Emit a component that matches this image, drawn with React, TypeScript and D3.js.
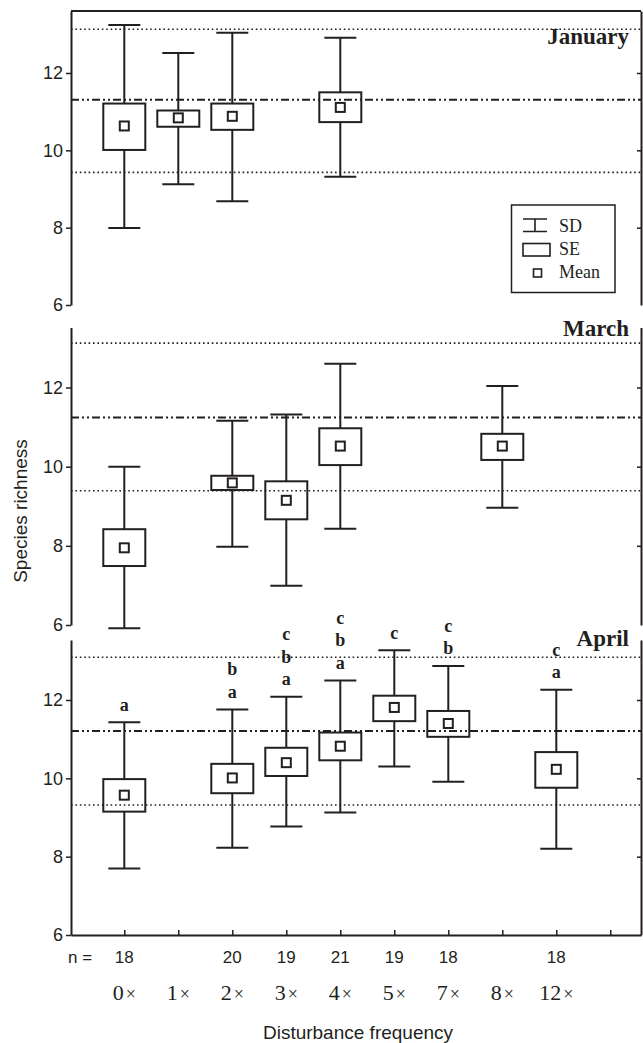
import React, { useEffect, useRef } from "react";
import * as d3 from "d3";

// disturbance frequency classes (x axis), plus one empty tick slot at the end
const categories = ["0", "1", "2", "3", "4", "5", "7", "8", "12"];
const sampleSizes = [18, null, 20, 19, 21, 19, 18, null, 18];

// January
const janGroups = ["0", "1", "2", "4"];
const janMean = [10.63, 10.84, 10.88, 11.11];
const janSeLow = [10.01, 10.61, 10.53, 10.73];
const janSeHigh = [11.21, 11.03, 11.21, 11.5];
const janSdLow = [7.99, 9.12, 8.68, 9.32];
const janSdHigh = [13.24, 12.52, 13.04, 12.91];
const janRefLines = [13.13, 11.31, 9.43]; // upper dotted, mean dash-dot, lower dotted

// March
const marGroups = ["0", "2", "3", "4", "8"];
const marMean = [7.95, 9.59, 9.15, 10.52, 10.52];
const marSeLow = [7.49, 9.41, 8.67, 10.04, 10.17];
const marSeHigh = [8.42, 9.77, 9.63, 10.97, 10.83];
const marSdLow = [5.92, 7.98, 6.99, 8.43, 8.96];
const marSdHigh = [10.0, 11.16, 11.32, 12.6, 12.04];
const marRefLines = [13.12, 11.24, 9.39];

// April
const aprGroups = ["0", "2", "3", "4", "5", "7", "12"];
const aprMean = [9.57, 10.01, 10.4, 10.82, 11.81, 11.4, 10.23];
const aprSeLow = [9.15, 9.62, 10.06, 10.46, 11.46, 11.06, 9.76];
const aprSeHigh = [9.98, 10.37, 10.78, 11.17, 12.11, 11.72, 10.67];
const aprSdLow = [7.7, 8.23, 8.77, 9.13, 10.3, 9.91, 8.2];
const aprSdHigh = [11.43, 11.76, 12.08, 12.5, 13.27, 12.87, 12.26];
const aprRefLines = [13.09, 11.21, 9.32];
const aprLetters = [["a"], ["b", "a"], ["c", "b", "a"], ["c", "b", "a"], ["c"], ["c", "b"], ["c", "a"]];

const yTicks = [6, 8, 10, 12];

const INK = "#231f20";
const SANS = "'Liberation Sans', Arial, sans-serif";
const SERIF = "'Liberation Serif', 'Times New Roman', serif";

const W = 643;
const H = 1043;
const LEFT = 71;
const RIGHT = 641;

interface Panel {
    name: string;
    top: number;
    y6: number;
    y12: number;
    labelY: number;
    groups: string[];
    mean: number[];
    seLow: number[];
    seHigh: number[];
    sdLow: number[];
    sdHigh: number[];
    refLines: number[];
    letters?: string[][];
    topBorder?: boolean;
    bottomAxis?: boolean;
}

const panels: Panel[] = [
    { name: "January", top: 11, y6: 305, y12: 73, labelY: 44, groups: janGroups, mean: janMean, seLow: janSeLow, seHigh: janSeHigh, sdLow: janSdLow, sdHigh: janSdHigh, refLines: janRefLines, topBorder: true },
    { name: "March", top: 327.5, y6: 625, y12: 387.5, labelY: 336, groups: marGroups, mean: marMean, seLow: marSeLow, seHigh: marSeHigh, sdLow: marSdLow, sdHigh: marSdHigh, refLines: marRefLines },
    { name: "April", top: 640, y6: 935, y12: 700, labelY: 646, groups: aprGroups, mean: aprMean, seLow: aprSeLow, seHigh: aprSeHigh, sdLow: aprSdLow, sdHigh: aprSdHigh, refLines: aprRefLines, letters: aprLetters, bottomAxis: true },
];

export default function App() {
    const svgRef = useRef<SVGSVGElement>(null);

    useEffect(() => {
        if (!svgRef.current) return;
        const svg = d3.select(svgRef.current);
        svg.selectAll("*").remove();

        // x: index of tick slot -> pixel
        const x = d3.scaleLinear().domain([0, 9]).range([124.3, 610.3]);
        const xAxisScale = x.copy().domain([x.invert(LEFT), x.invert(RIGHT)]).range([LEFT, RIGHT]);
        const xOf = (cat: string) => x(categories.indexOf(cat));

        const boxW = 42;
        const capW = 32;
        const meanS = 9;

        panels.forEach(p => {
            const y = d3.scaleLinear().domain([6, 12]).range([p.y6, p.y12]);
            const yAxisScale = y.copy().domain([6, y.invert(p.top)]).range([p.y6, p.top]);
            const g = svg.append("g");

            // left axis
            const left = g.append("g")
                .attr("transform", `translate(${LEFT},0)`)
                .call(d3.axisLeft(yAxisScale).tickValues(yTicks).tickSize(5).tickSizeOuter(0).tickPadding(3).tickFormat(d3.format("d")));
            left.select(".domain").attr("stroke", INK).attr("stroke-width", 2);
            left.selectAll(".tick line").attr("stroke", INK).attr("stroke-width", 1.5);
            left.selectAll(".tick text").attr("fill", INK).style("font-family", SANS).style("font-size", "18px");

            // right axis, ticks inward
            const right = g.append("g")
                .attr("transform", `translate(${RIGHT},0)`)
                .call(d3.axisLeft(yAxisScale).tickValues([8, 10, 12]).tickSize(4).tickSizeOuter(0).tickFormat(() => ""));
            right.select(".domain").attr("stroke", INK).attr("stroke-width", 2);
            right.selectAll(".tick line").attr("stroke", INK).attr("stroke-width", 1.5);

            if (p.topBorder) {
                g.append("line")
                    .attr("x1", LEFT).attr("x2", RIGHT)
                    .attr("y1", p.top).attr("y2", p.top)
                    .attr("stroke", INK).attr("stroke-width", 2);
            }

            if (p.bottomAxis) {
                const bottom = g.append("g")
                    .attr("transform", `translate(0,${p.y6})`)
                    .call(d3.axisTop(xAxisScale).tickValues(d3.range(10)).tickSize(5).tickSizeOuter(0).tickFormat(() => ""));
                bottom.select(".domain").attr("stroke", INK).attr("stroke-width", 2);
                bottom.selectAll(".tick line").attr("stroke", INK).attr("stroke-width", 1.5);
            }

            // whiskers (SD)
            const items = p.groups.map((c, i) => ({
                cx: xOf(c), mean: p.mean[i], seLow: p.seLow[i], seHigh: p.seHigh[i],
                sdLow: p.sdLow[i], sdHigh: p.sdHigh[i], letters: p.letters ? p.letters[i] : [],
            }));

            const item = g.selectAll("g.item").data(items).join("g").attr("class", "item");
            item.append("line")
                .attr("x1", d => d.cx).attr("x2", d => d.cx)
                .attr("y1", d => y(d.sdLow)).attr("y2", d => y(d.sdHigh))
                .attr("stroke", INK).attr("stroke-width", 2);
            [(d: typeof items[0]) => d.sdLow, (d: typeof items[0]) => d.sdHigh].forEach(acc => {
                item.append("line")
                    .attr("x1", d => d.cx - capW / 2).attr("x2", d => d.cx + capW / 2)
                    .attr("y1", d => y(acc(d))).attr("y2", d => y(acc(d)))
                    .attr("stroke", INK).attr("stroke-width", 2);
            });
            // SE box
            item.append("rect")
                .attr("x", d => d.cx - boxW / 2).attr("width", boxW)
                .attr("y", d => y(d.seHigh)).attr("height", d => y(d.seLow) - y(d.seHigh))
                .attr("fill", "white").attr("stroke", INK).attr("stroke-width", 2);
            // mean
            item.append("rect")
                .attr("x", d => d.cx - meanS / 2).attr("width", meanS)
                .attr("y", d => y(d.mean) - meanS / 2).attr("height", meanS)
                .attr("fill", "white").attr("stroke", INK).attr("stroke-width", 2);

            // significance letters, stacked above SD cap (listed top to bottom)
            item.each(function (d) {
                const n = d.letters.length;
                d3.select(this).selectAll("text.letter").data(d.letters).join("text")
                    .attr("class", "letter")
                    .attr("x", d.cx)
                    .attr("y", (_, k) => y(d.sdHigh) - 17 - (n - 1 - k) * 22.5)
                    .attr("dy", "0.3em")
                    .attr("text-anchor", "middle")
                    .style("font-family", SERIF).style("font-weight", "bold").style("font-size", "18px")
                    .attr("fill", INK)
                    .text(l => l);
            });

            // reference lines (dotted = limits, dash-dot = overall mean)
            g.selectAll("line.ref").data(p.refLines).join("line")
                .attr("class", "ref")
                .attr("x1", LEFT).attr("x2", RIGHT)
                .attr("y1", d => y(d)).attr("y2", d => y(d))
                .attr("stroke", INK)
                .attr("stroke-width", (_, i) => (i === 1 ? 2 : 1.6))
                .attr("stroke-dasharray", (_, i) => (i === 1 ? "8,3,2,3,2,3" : "1.6,2.8"));

            // month label
            g.append("text")
                .attr("x", 629).attr("y", p.labelY)
                .attr("text-anchor", "end")
                .style("font-family", SERIF).style("font-weight", "bold").style("font-size", "23px")
                .attr("fill", INK)
                .text(p.name);
        });

        // sample sizes
        svg.append("text").attr("x", 68).attr("y", 963)
            .style("font-family", SANS).style("font-size", "17px").attr("fill", INK)
            .text("n =");
        svg.selectAll("text.n").data(categories.map((c, i) => ({ c, n: sampleSizes[i] })).filter(d => d.n !== null))
            .join("text").attr("class", "n")
            .attr("x", d => xOf(d.c)).attr("y", 963)
            .attr("text-anchor", "middle")
            .style("font-family", SANS).style("font-size", "17px").attr("fill", INK)
            .text(d => String(d.n));

        // category labels
        const catText = svg.selectAll("text.cat").data(categories).join("text").attr("class", "cat")
            .attr("x", d => xOf(d)).attr("y", 1000)
            .attr("text-anchor", "middle")
            .style("font-family", SERIF).style("font-size", "22px").attr("fill", INK);
        catText.append("tspan").text(d => d);
        catText.append("tspan").attr("dx", 2).style("font-size", "18px").text("×");

        // axis titles
        svg.append("text")
            .attr("x", 358).attr("y", 1039)
            .attr("text-anchor", "middle")
            .style("font-family", SANS).style("font-size", "19px").attr("fill", INK)
            .text("Disturbance frequency");
        svg.append("text")
            .attr("transform", "translate(27,511) rotate(-90)")
            .attr("text-anchor", "middle")
            .style("font-family", SANS).style("font-size", "19px").attr("fill", INK)
            .text("Species richness");

        // legend
        const lg = svg.append("g");
        lg.append("rect").attr("x", 511.5).attr("y", 205).attr("width", 103.5).attr("height", 87.5)
            .attr("fill", "white").attr("stroke", INK).attr("stroke-width", 1.5);
        lg.append("path").attr("d", "M523,219H547M535,219V231.5M523,231.5H547")
            .attr("fill", "none").attr("stroke", INK).attr("stroke-width", 1.6);
        lg.append("rect").attr("x", 523).attr("y", 243.5).attr("width", 27).attr("height", 12.5)
            .attr("fill", "white").attr("stroke", INK).attr("stroke-width", 1.6);
        lg.append("rect").attr("x", 533.5).attr("y", 269).attr("width", 8).attr("height", 8)
            .attr("fill", "white").attr("stroke", INK).attr("stroke-width", 1.6);
        [["SD", 232], ["SE", 255], ["Mean", 277.5]].forEach(([t, ty]) => {
            lg.append("text").attr("x", 559).attr("y", ty as number)
                .style("font-family", SERIF).style("font-size", "18px").attr("fill", INK)
                .text(t as string);
        });
    }, []);

    return (
        <svg ref={svgRef} width={W} height={H} viewBox={`0 0 ${W} ${H}`}
            style={{ position: "absolute", left: 0, top: 0, background: "white" }} />
    );
}
